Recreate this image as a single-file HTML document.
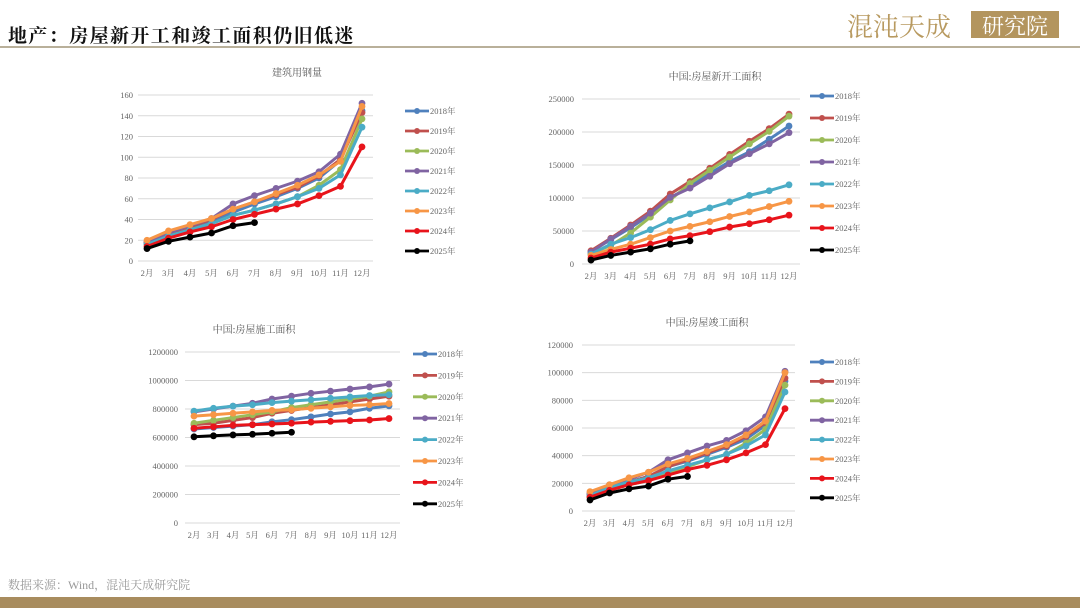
<!DOCTYPE html>
<html><head><meta charset="utf-8">
<style>
body{margin:0;background:#fff;}
#wrap{position:relative;width:1080px;height:608px;overflow:hidden;background:#fff;font-family:"Liberation Serif","Noto Serif CJK SC",serif;}
svg text{font-family:"Liberation Serif","Noto Serif CJK SC",serif;}
</style></head>
<body>
<div id="wrap">
<svg id="svg" width="1080" height="608">
  <text x="8" y="42" font-size="19" font-weight="bold" fill="#111" letter-spacing="1.4">地产：房屋新开工和竣工面积仍旧低迷</text>
  <rect x="0" y="46" width="1080" height="2" fill="#b9b09a"/>
  <text x="847" y="36" font-size="26" fill="#b89a60" font-family="'Noto Serif CJK SC',serif">混沌天成</text>
  <rect x="971" y="11" width="88" height="27" fill="#b3955e"/>
  <text x="1015" y="34" font-size="22" fill="#fff" text-anchor="middle" font-family="'Noto Serif CJK SC',serif">研究院</text>
  <text x="8" y="589" font-size="12" fill="#999">数据来源：Wind，混沌天成研究院</text>
  <rect x="0" y="597" width="1080" height="11" fill="#a88c5e"/>
  <g id="charts"></g>
</svg>
</div>
<script>
const months = ["2月","3月","4月","5月","6月","7月","8月","9月","10月","11月","12月"];
const years = ["2018年","2019年","2020年","2021年","2022年","2023年","2024年","2025年"];
const colors = ["#4f81bd","#c0504d","#9bbb59","#8064a2","#4bacc6","#f79646","#e8141b","#000000"];

const steelTicks = [0,20,40,60,80,100,120,140,160];
const steel2018 = [17,25,32,37,47,55,62,70,80,97,145];
const steel2019 = [18,26,33,40,50,57,64,71,82,98,143];
const steel2020 = [16,24,30,36,44,49,55,62,73,88,137];
const steel2021 = [18,27,34,41,55,63,70,77,86,103,152];
const steel2022 = [16,24,30,36,44,49,55,62,70,83,129];
const steel2023 = [20,29,35,41,50,57,65,73,83,96,149];
const steel2024 = [14,22,28,33,40,45,50,55,63,72,110];
const steel2025 = [12,19,23,27,34,37];

const startTicks = [0,50000,100000,150000,200000,250000];
const start2018 = [19000,37000,55000,75000,100000,118000,137000,155000,170000,189000,209000];
const start2019 = [20000,39000,59000,80000,106000,125000,145000,166000,186000,205000,227000];
const start2020 = [16000,28000,47000,71000,97000,122000,142000,162000,182000,201000,224000];
const start2021 = [18000,38000,57000,77000,101000,115000,133000,152000,167000,182000,199000];
const start2022 = [15000,30000,40000,52000,66000,76000,85000,94000,104000,111000,120000];
const start2023 = [13000,22000,30000,40000,50000,57000,64000,72000,79000,87000,95000];
const start2024 = [9000,18000,24000,30000,38000,43000,49000,56000,61000,67000,74000];
const start2025 = [6000,13000,18000,23000,30000,35000];

const constrTicks = [0,200000,400000,600000,800000,1000000,1200000];
const constr2018 = [660000,670000,680000,690000,710000,725000,745000,765000,780000,805000,822000];
const constr2019 = [690000,700000,720000,740000,770000,790000,810000,830000,850000,870000,890000];
const constr2020 = [700000,720000,740000,760000,780000,810000,830000,850000,870000,890000,920000];
const constr2021 = [780000,800000,820000,840000,870000,890000,910000,925000,940000,955000,975000];
const constr2022 = [785000,805000,820000,830000,845000,855000,865000,875000,885000,895000,900000];
const constr2023 = [750000,760000,770000,780000,790000,795000,805000,815000,825000,830000,838000];
const constr2024 = [665000,675000,685000,690000,695000,700000,708000,713000,718000,723000,733000];
const constr2025 = [605000,612000,618000,623000,630000,637000];

const compTicks = [0,20000,40000,60000,80000,100000,120000];
const comp2018 = [12000,17000,21000,25000,32000,36000,41000,46000,52000,62000,94000];
const comp2019 = [12000,17000,21000,25000,32000,37000,42000,47000,54000,64000,96000];
const comp2020 = [10000,15000,19000,22000,28000,32000,37000,41000,49000,59000,91000];
const comp2021 = [13000,19000,23000,28000,37000,42000,47000,51000,58000,68000,101000];
const comp2022 = [11000,17000,21000,24000,29000,33000,37000,41000,47000,55000,86000];
const comp2023 = [14000,19000,24000,28000,34000,38000,43000,48000,55000,65000,100000];
const comp2024 = [10000,15000,19000,22000,26000,30000,33000,37000,42000,48000,74000];
const comp2025 = [8000,13000,16000,18000,23000,25000];

const NS = "http://www.w3.org/2000/svg";
const root = document.getElementById("charts");
function mk(tag, attrs, parent){const e=document.createElementNS(NS,tag);for(const k in attrs)e.setAttribute(k,attrs[k]);parent.appendChild(e);return e;}

function chart(cfg){
  const g = mk("g",{},root);
  
  
  const maxV = cfg.ticks[cfg.ticks.length-1];
  const X = i => cfg.x0 + (cfg.x1-cfg.x0)*i/(months.length-1);
  const Y = v => cfg.yb - (cfg.yb-cfg.yt)*v/maxV;
  const t = mk("text",{x:cfg.tx,y:cfg.ty,"font-size":10,fill:"#555","text-anchor":"middle"},g);
  t.textContent = cfg.title;
  
  
  cfg.ticks.forEach(v=>{
    const l = mk("line",{x1:cfg.gx0,x2:cfg.gx1,y1:Y(v),y2:Y(v),stroke:"#d9d9d9","stroke-width":1},g);
    
    
    const tl = mk("text",{x:cfg.lx,y:Y(v)+3,"font-size":8.5,fill:"#666","text-anchor":"end"},g);
    tl.textContent = v;
    
    
  });
  months.forEach((m,i)=>{
    const tl = mk("text",{x:X(i),y:cfg.xly,"font-size":8.5,fill:"#666","text-anchor":"middle"},g);
    tl.textContent = m;
    
    
  });
  cfg.series.forEach((s,k)=>{
    const pts = s.map((v,i)=>X(i)+","+Y(v)).join(" ");
    const pl = mk("polyline",{points:pts,fill:"none",stroke:colors[k],"stroke-width":3,"stroke-linejoin":"round"},g);
    
    
    s.forEach((v,i)=>{
      const c = mk("circle",{cx:X(i),cy:Y(v),r:3.4,fill:colors[k]},g);
      
      
    });
    const ly = cfg.legY + cfg.legStep*k;
    const ll = mk("line",{x1:cfg.legX,x2:cfg.legX+24,y1:ly,y2:ly,stroke:colors[k],"stroke-width":2.8},g);
    
    
    const lc = mk("circle",{cx:cfg.legX+12,cy:ly,r:3,fill:colors[k]},g);
    
    
    const lt = mk("text",{x:cfg.legX+25,y:ly+3,"font-size":8.5,fill:"#666"},g);
    lt.textContent = years[k];
    
    
  });
}

chart({name:"steel-chart",title:"建筑用钢量",tx:297,ty:76,ticks:steelTicks,x0:147,x1:362,yt:95,yb:261,gx0:138,gx1:373,lx:133,xly:276,legX:405,legY:111,legStep:20,
  series:[steel2018,steel2019,steel2020,steel2021,steel2022,steel2023,steel2024,steel2025]});
chart({name:"new-starts-chart",title:"中国:房屋新开工面积",tx:715,ty:80,ticks:startTicks,x0:591,x1:789,yt:99,yb:264,gx0:582,gx1:800,lx:574,xly:279,legX:810,legY:96,legStep:22,
  series:[start2018,start2019,start2020,start2021,start2022,start2023,start2024,start2025]});
chart({name:"under-construction-chart",title:"中国:房屋施工面积",tx:254,ty:333,ticks:constrTicks,x0:194,x1:389,yt:352,yb:523,gx0:185,gx1:400,lx:178,xly:538,legX:413,legY:354,legStep:21.4,
  series:[constr2018,constr2019,constr2020,constr2021,constr2022,constr2023,constr2024,constr2025]});
chart({name:"completions-chart",title:"中国:房屋竣工面积",tx:707,ty:326,ticks:compTicks,x0:590,x1:785,yt:345,yb:511,gx0:582,gx1:795,lx:573,xly:526,legX:810,legY:362,legStep:19.4,
  series:[comp2018,comp2019,comp2020,comp2021,comp2022,comp2023,comp2024,comp2025]});
</script>
</body></html>
